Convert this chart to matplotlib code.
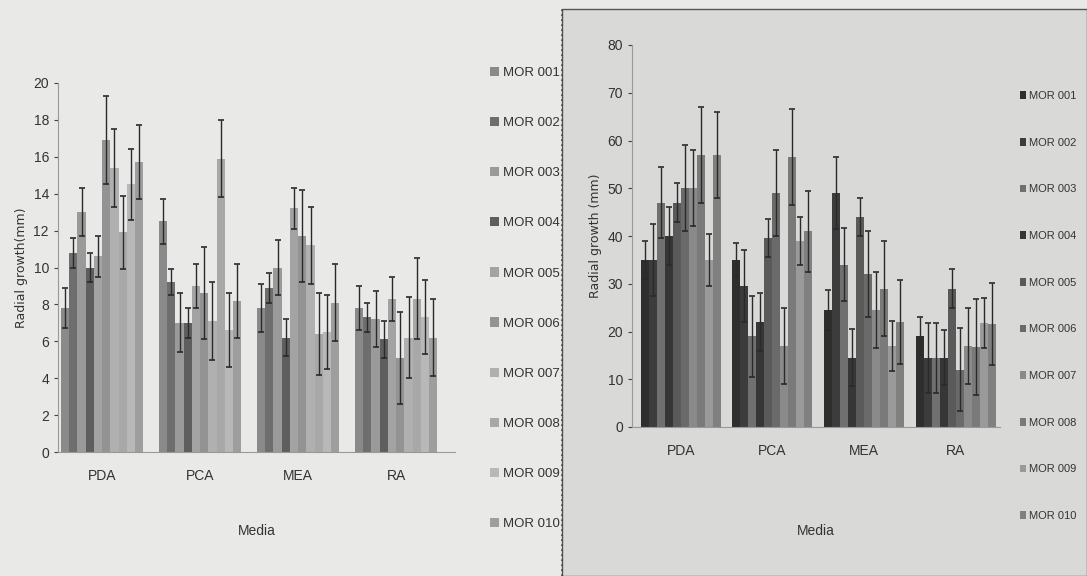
import numpy as np
import matplotlib.pyplot as plt
from matplotlib.patches import Rectangle
from matplotlib.lines import Line2D

plt.rcParams['font.family'] = ['Liberation Sans', 'DejaVu Sans']

media = ["PDA", "PCA", "MEA", "RA"]
isolates = ["MOR 001", "MOR 002", "MOR 003", "MOR 004", "MOR 005",
            "MOR 006", "MOR 007", "MOR 008", "MOR 009", "MOR 010"]

# left chart: radial growth (mm), rows = isolates, columns = media
left_mean = [
    [7.8, 12.5, 7.8, 7.8],
    [10.8, 9.2, 8.9, 7.3],
    [13.0, 7.0, 10.0, 7.2],
    [10.0, 7.0, 6.2, 6.1],
    [10.6, 9.0, 13.2, 8.3],
    [16.9, 8.6, 11.7, 5.1],
    [15.4, 7.1, 11.2, 6.2],
    [11.9, 15.9, 6.4, 8.3],
    [14.5, 6.6, 6.5, 7.3],
    [15.7, 8.2, 8.1, 6.2],
]
left_err = [
    [1.1, 1.2, 1.3, 1.2],
    [0.8, 0.7, 0.8, 0.8],
    [1.3, 1.6, 1.5, 1.5],
    [0.8, 0.8, 1.0, 1.0],
    [1.1, 1.2, 1.1, 1.2],
    [2.4, 2.5, 2.5, 2.5],
    [2.1, 2.1, 2.1, 2.2],
    [2.0, 2.1, 2.2, 2.2],
    [1.9, 2.0, 2.0, 2.0],
    [2.0, 2.0, 2.1, 2.1],
]

# right chart
right_mean = [
    [35, 35, 24.5, 19],
    [35, 29.5, 49, 14.5],
    [47, 19, 34, 14.5],
    [40, 22, 14.5, 14.5],
    [47, 39.5, 44, 29],
    [50, 49, 32, 12],
    [50, 17, 24.5, 17],
    [57, 56.5, 29, 16.8],
    [35, 39, 17, 21.8],
    [57, 41, 22, 21.6],
]
right_err = [
    [4, 3.6, 4.2, 4],
    [7.5, 7.5, 7.5, 7.3],
    [7.5, 8.5, 7.6, 7.3],
    [6, 6, 6, 5.8],
    [4, 4, 4, 4],
    [9, 9, 9, 8.7],
    [8, 8, 8, 8],
    [10, 10, 10, 10],
    [5.5, 5, 5.3, 5.2],
    [9, 8.5, 8.8, 8.6],
]

left_colors = ["#8a8a8a", "#6e6e6e", "#9a9a9a", "#5e5e5e", "#a3a3a3",
               "#939393", "#b0b0b0", "#a8a8a8", "#b8b8b8", "#9e9e9e"]
right_colors = ["#2e2e2e", "#3c3c3c", "#707070", "#363636", "#5a5a5a",
                "#6a6a6a", "#8a8a8a", "#7a7a7a", "#9a9a9a", "#808080"]

fig = plt.figure(figsize=(10.87, 5.76), dpi=100)
fig.patch.set_facecolor("#e9e9e7")

# right half of the page is a bit greyer in the photo
bg = Rectangle((562 / 1087, 0.0), 1 - 562 / 1087, 0.985,
               transform=fig.transFigure, facecolor="#d9d9d7",
               edgecolor="#555555", lw=1.0, zorder=-5)
fig.add_artist(bg)
fig.add_artist(Line2D([562 / 1087, 562 / 1087], [0, 0.985], transform=fig.transFigure,
                      color="#444444", lw=1.2, ls=(0, (1, 2)), zorder=-4))


def draw(ax, means, errs, colors, ylim, step, group_w, ylabel, label_pad, xlab_pad):
    x = np.arange(len(media))
    n = len(isolates)
    w = group_w / n
    for i in range(n):
        xs = x - group_w / 2 + w * (i + 0.5)
        ax.bar(xs, means[i], w, color=colors[i], edgecolor="none", label=isolates[i], zorder=2)
        ax.errorbar(xs, means[i], yerr=errs[i], fmt="none", ecolor="#2a2a2a",
                    elinewidth=1.0, capsize=2.5, capthick=1.2, zorder=3)
    ax.set_ylim(*ylim)
    ax.set_yticks(np.arange(ylim[0], ylim[1] + 0.1, step))
    ax.set_xticks(x)
    ax.set_xticklabels(media, fontsize=10, color="#333333")
    ax.tick_params(axis="x", length=0, pad=label_pad)
    ax.tick_params(axis="y", length=3, labelsize=10, colors="#444444", labelcolor="#333333")
    ax.set_facecolor("none")
    for s in ["top", "right"]:
        ax.spines[s].set_visible(False)
    ax.spines["left"].set_color("#999999")
    ax.spines["bottom"].set_color("#999999")
    ax.set_ylabel(ylabel, fontsize=9, color="#333333", family="DejaVu Sans")
    ax.set_xlabel("Media", fontsize=10, color="#333333", labelpad=xlab_pad)


ax1 = fig.add_axes([58 / 1087, 1 - 452 / 576, 397 / 1087, 369 / 576])
draw(ax1, left_mean, left_err, left_colors, (0, 20), 2, 0.84, "Radial growth(mm)", 12, 30)
ax1.set_xlim(-0.45, 3.6)

ax2 = fig.add_axes([632 / 1087, 1 - 427 / 576, 368 / 1087, 382 / 576])
draw(ax2, right_mean, right_err, right_colors, (0, 80), 10, 0.87, "Radial growth (mm)", 12, 48)
ax2.set_xlim(-0.53, 3.48)

h1, l1 = ax1.get_legend_handles_labels()
fig.legend(h1, l1, loc="upper left", bbox_to_anchor=(478 / 1087, 1 - 55 / 576),
           frameon=False, fontsize=9.5, labelspacing=2.87, handlelength=0.7,
           handleheight=0.7, handletextpad=0.3, labelcolor="#333333")

h2, l2 = ax2.get_legend_handles_labels()
fig.legend(h2, l2, loc="upper left", bbox_to_anchor=(1010 / 1087, 1 - 81 / 576),
           frameon=False, fontsize=8, labelspacing=3.3, handlelength=0.5,
           handleheight=0.7, handletextpad=0.3, labelcolor="#333333")

fig.savefig("out.png", dpi=100, facecolor=fig.get_facecolor())
